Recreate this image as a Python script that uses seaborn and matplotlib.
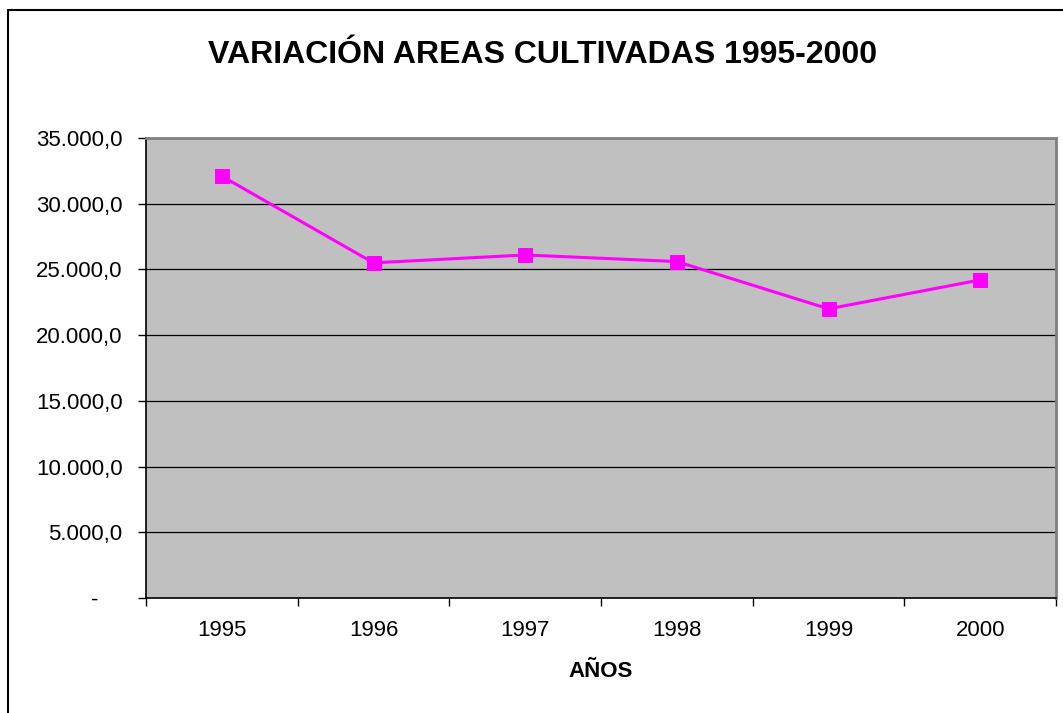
import matplotlib
matplotlib.use("Agg")
import numpy as np
import pandas as pd
import seaborn as sns
from matplotlib import pyplot as plt
from matplotlib.lines import Line2D
from matplotlib.ticker import FixedLocator, FuncFormatter

years = ["1995", "1996", "1997", "1998", "1999", "2000"]
areas = [32100, 25500, 26100, 25600, 22000, 24200]

TITLE = "VARIACIÓN AREAS CULTIVADAS 1995-2000"
XLABEL = "AÑOS"


def es_format(v, pos):
    # Excel style: 35.000,0 and a dash for zero
    if v == 0:
        return "-    "
    s = f"{v:,.1f}"
    return s.replace(",", "X").replace(".", ",").replace("X", ".")


sns.set_style("white")
plt.rcParams["font.family"] = ["Liberation Sans", "DejaVu Sans"]
plt.rcParams["text.color"] = "black"
plt.rcParams["xtick.color"] = "black"
plt.rcParams["ytick.color"] = "black"
plt.rcParams["axes.labelcolor"] = "black"

df = pd.DataFrame({"pos": np.arange(len(years)), "area": areas})

fig = plt.figure(figsize=(10.63, 7.13), dpi=100, facecolor="white")
ax = fig.add_axes([146 / 1063, 115 / 713, 910 / 1063, 460 / 713])
ax.set_facecolor("#C0C0C0")

sns.lineplot(data=df, x="pos", y="area", ax=ax, color="#FF00FF",
             linewidth=2.2, marker="s", markersize=9.5,
             markeredgecolor="#FF00FF", zorder=3)

ax.set_xlim(-0.5, len(years) - 0.5)
ax.set_ylim(0, 35000)

# y axis
ax.yaxis.set_major_locator(FixedLocator(np.arange(0, 35001, 5000)))
ax.yaxis.set_major_formatter(FuncFormatter(es_format))
ax.tick_params(axis="y", direction="out", length=6, width=1, color="black",
               labelsize=16, pad=11, left=True, labelcolor="black")
for v in range(5000, 35000, 5000):
    ax.axhline(v, color="black", linewidth=0.9, zorder=1)

# x axis: labels centred, ticks on category boundaries
ax.xaxis.set_major_locator(FixedLocator(df["pos"]))
ax.set_xticklabels(years)
ax.xaxis.set_minor_locator(FixedLocator(np.arange(-0.5, len(years), 1.0)))
ax.tick_params(axis="x", which="major", length=0, labelsize=16, pad=16,
               labelcolor="black")
ax.tick_params(axis="x", which="minor", direction="out", length=6, width=1,
               color="black", bottom=True)

ax.set_xlabel(XLABEL, fontsize=16, fontweight="bold", labelpad=14,
              color="black")
ax.set_ylabel("")

for side in ["left", "bottom"]:
    ax.spines[side].set_color("black")
    ax.spines[side].set_linewidth(1.2)
for side in ["top", "right"]:
    ax.spines[side].set_color("#808080")
    ax.spines[side].set_linewidth(2)

fig.text(543 / 1063, 1 - 55 / 713, TITLE, ha="center", va="center",
         fontsize=23, fontweight="bold", color="black")

# outer chart frame (left and top edges visible)
fig.add_artist(Line2D([8 / 1063, 8 / 1063], [0, 1 - 10 / 713],
                      transform=fig.transFigure, color="black", linewidth=1.5))
fig.add_artist(Line2D([8 / 1063, 1], [1 - 10 / 713, 1 - 10 / 713],
                      transform=fig.transFigure, color="black", linewidth=1.5))

fig.savefig("out.png", dpi=100, facecolor="white")
